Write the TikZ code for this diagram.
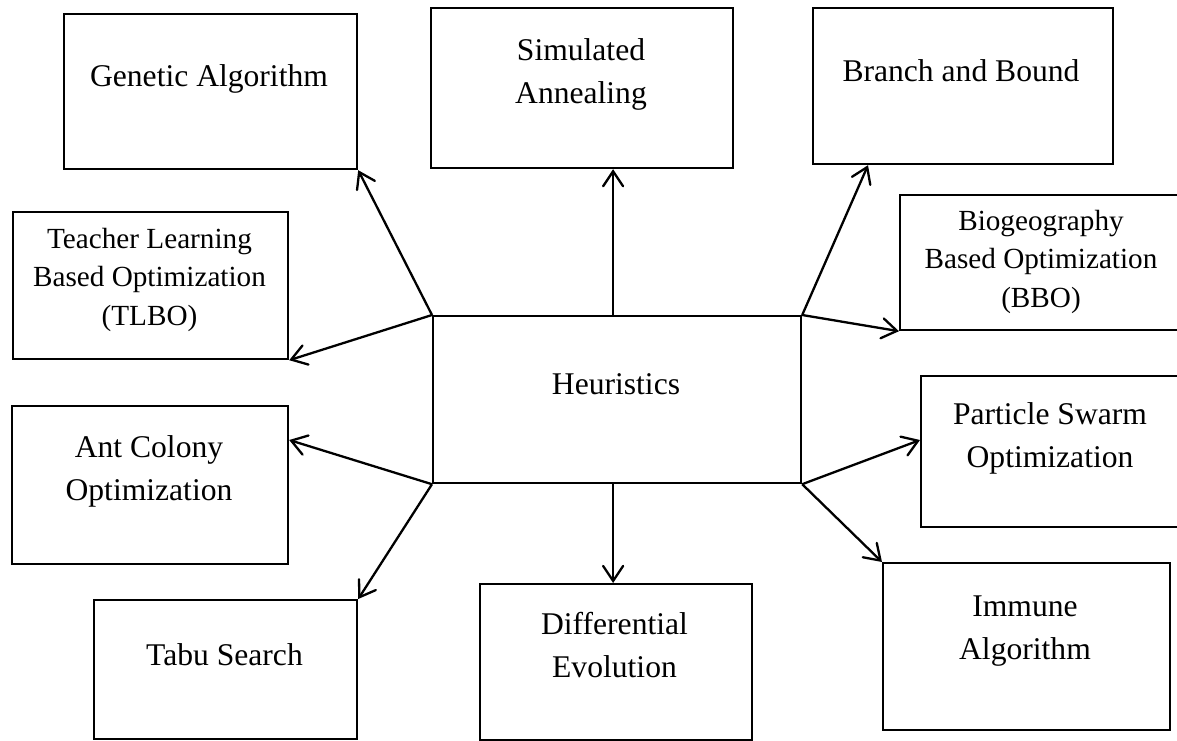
\documentclass[tikz,border=0pt]{standalone}
\usepackage{fontspec}
\setmainfont{Liberation Serif}
\usetikzlibrary{arrows.meta}

\tikzset{
  box/.style={draw, line width=2.2pt, inner sep=0pt, anchor=north west},
  lbl/.style={align=center, inner sep=0pt, anchor=base,
              font=\fontsize{31.6}{43}\selectfont},
  lblsm/.style={align=center, inner sep=0pt, anchor=base,
              font=\fontsize{29.2}{38.5}\selectfont},
  link/.style={line width=2.3pt,
               -{Straight Barb[length=15pt,width=20pt,line cap=round]}}
}

% box placed by its top-left corner (x, y) with width w and height h
\newcommand{\mkbox}[5]{%
  \node[box, minimum width=#4pt, minimum height=#5pt] (#1) at (#2,#3) {};}

\begin{document}
\begin{tikzpicture}[x=1pt, y=-1pt]
  \useasboundingbox (0,0) rectangle (1177,740);

  % boxes
  \mkbox{heur}{432}{315}{368}{167}
  \mkbox{ga}{63}{13}{293}{155}
  \mkbox{tlbo}{12}{211}{275}{147}
  \mkbox{sa}{430}{7}{302}{160}
  \mkbox{bb}{812}{7}{300}{156}
  \mkbox{bbo}{899}{194}{284}{135}
  \mkbox{aco}{11}{405}{276}{158}
  \mkbox{tabu}{93}{599}{263}{139}
  \mkbox{de}{479}{583}{272}{156}
  \mkbox{pso}{920}{375}{262}{151}
  \mkbox{imm}{882}{562}{287}{167}

  % labels
  \node[lbl] (heur-t) at (616,394) {Heuristics};
  \node[lbl] (ga-t) at (209,86) {Genetic Algorithm};
  \node[lblsm, anchor=north] (tlbo-t) at (149.5,228) {Teacher Learning\\Based Optimization\\(TLBO)};
  \node[lbl, anchor=north] (sa-t) at (581,38) {Simulated\\Annealing};
  \node[lbl] (bb-t) at (961,81) {Branch and Bound};
  \node[lblsm, anchor=north] (bbo-t) at (1041,210) {Biogeography\\Based Optimization\\(BBO)};
  \node[lbl, anchor=north] (aco-t) at (149,435) {Ant Colony\\Optimization};
  \node[lbl] (tabu-t) at (224.5,665) {Tabu Search};
  \node[lbl, anchor=north] (de-t) at (614.5,612) {Differential\\Evolution};
  \node[lbl, anchor=north] (pso-t) at (1050,402) {Particle Swarm\\Optimization};
  \node[lbl, anchor=north] (imm-t) at (1025,596) {Immune\\Algorithm};

  % connectors from the central box
  \draw[link] (heur.north west) -- (ga.south east);
  \draw[link] (heur.north west) -- (tlbo.south east);
  \draw[link] ([xshift=-4pt]heur.north) -- ([xshift=-4pt]heur.north |- sa.south);
  \draw[link] (heur.north east) -- ([xshift=56pt]bb.south west);
  \draw[link] (heur.north east) -- (bbo.south west);
  \draw[link] (heur.south east) -- ([yshift=-65pt]pso.north west);
  \draw[link] (heur.south east) -- (imm.north west);
  \draw[link] ([xshift=-4pt]heur.south) -- ([xshift=-4pt]heur.south |- de.north);
  \draw[link] (heur.south west) -- (tabu.north east);
  \draw[link] (heur.south west) -- ([yshift=-35pt]aco.north east);
\end{tikzpicture}
\end{document}
